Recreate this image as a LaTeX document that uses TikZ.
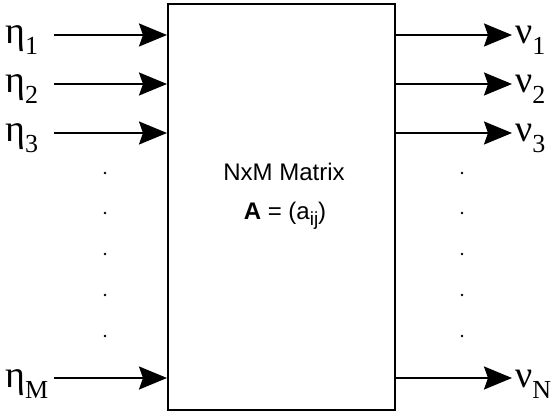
\documentclass[tikz,border=0pt]{standalone}
\usepackage{fontspec}
\setmainfont{Liberation Serif}
\newfontfamily\arial{Liberation Sans}
\usetikzlibrary{arrows.meta}

\tikzset{
  sig/.style={line width=2pt, -{Stealth[length=28pt,width=23pt,inset=4pt]}},
  matbox/.style={draw, line width=2pt, minimum width=227pt, minimum height=406pt, inner sep=0pt},
  port/.style={anchor=base west, inner sep=0pt, font=\fontsize{38}{38}\selectfont},
  boxtext/.style={anchor=base, inner sep=0pt, font=\arial\fontsize{24}{24}\selectfont}
}
\newcommand{\sublow}[1]{\raisebox{-11pt}{\fontsize{26}{26}\selectfont #1}}
\newcommand{\idx}[1]{\raisebox{-6pt}{\fontsize{19}{19}\selectfont #1}}

\begin{document}
\begin{tikzpicture}[x=1pt,y=-1pt]
  \useasboundingbox (0,0) rectangle (560,414);
  % the matrix block
  \node[matbox] (mat) at (281.5,207) {};
  \node[boxtext] (title) at (284,181) {NxM Matrix};
  \node[boxtext] (formula) at (285,220) {\textbf{A} = (a\idx{ij})};
  % inputs
  \coordinate (in1) at (54,35);
  \coordinate (in2) at (54,84);
  \coordinate (in3) at (54,133);
  \coordinate (inM) at (54,378);
  \draw[sig] (in1) -- (in1 -| mat.west);
  \draw[sig] (in2) -- (in2 -| mat.west);
  \draw[sig] (in3) -- (in3 -| mat.west);
  \draw[sig] (inM) -- (inM -| mat.west);
  \node[port] (eta1) at (5,44) {η\sublow{1}};
  \node[port] (eta2) at (5,93) {η\sublow{2}};
  \node[port] (eta3) at (5,142) {η\sublow{3}};
  \node[port] (etaM) at (5,387) {η\sublow{M}};
  % outputs
  \coordinate (out1) at (512,35);
  \coordinate (out2) at (512,84);
  \coordinate (out3) at (512,133);
  \coordinate (outN) at (512,378);
  \draw[sig] (out1 -| mat.east) -- (out1);
  \draw[sig] (out2 -| mat.east) -- (out2);
  \draw[sig] (out3 -| mat.east) -- (out3);
  \draw[sig] (outN -| mat.east) -- (outN);
  \node[port] (nu1) at (515,44) {ν\sublow{1}};
  \node[port] (nu2) at (515,93) {ν\sublow{2}};
  \node[port] (nu3) at (515,142) {ν\sublow{3}};
  \node[port] (nuN) at (515,387) {ν\sublow{N}};
  % vertical ellipsis dots
  \foreach \y in {173,213,254,295,336} {
    \fill (105,\y) circle (1.4pt);
    \fill (462,\y) circle (1.4pt);
  }
\end{tikzpicture}
\end{document}
